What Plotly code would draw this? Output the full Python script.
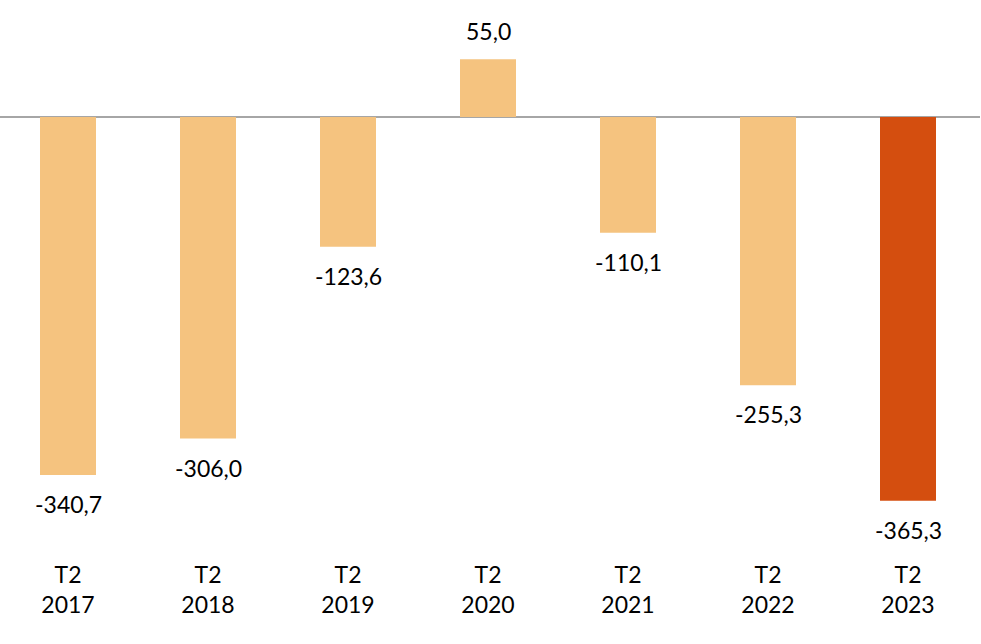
import plotly.graph_objects as go

categories = ["T2<br>2017", "T2<br>2018", "T2<br>2019", "T2<br>2020", "T2<br>2021", "T2<br>2022", "T2<br>2023"]
values = [-340.7, -306.0, -123.6, 55.0, -110.1, -255.3, -365.3]
labels = ["-340,7", "-306,0", "-123,6", "55,0", "-110,1", "-255,3", "-365,3"]
colors = ["#F5C37F"] * 6 + ["#D44E0F"]

FONT = "Lato"

fig = go.Figure()
fig.add_trace(go.Bar(
    x=list(range(len(categories))), y=values, width=0.4,
    marker=dict(color=colors, line=dict(width=0)),
    hoverinfo="skip",
))

for i, (v, t) in enumerate(zip(values, labels)):
    fig.add_annotation(
        x=i, y=v, text=t, showarrow=False,
        yanchor="top" if v < 0 else "bottom",
        yshift=-13 if v < 0 else 12,
        font=dict(family=FONT, size=23, color="#000000"),
    )

fig.update_layout(
    width=981, height=644,
    margin=dict(l=0, r=1, t=0, b=94),
    paper_bgcolor="white", plot_bgcolor="white",
    showlegend=False,
    xaxis=dict(
        range=[-0.4857, 6.5143],
        tickmode="array", tickvals=list(range(len(categories))), ticktext=categories,
        showgrid=False, zeroline=False, showline=False, ticks="",
        tickfont=dict(family=FONT, size=23, color="#000000"),
        ticklabelstandoff=9,
    ),
    yaxis=dict(
        range=[-412.1, 111.3], showgrid=False, showticklabels=False,
        zeroline=True, zerolinecolor="#A6A6A6", zerolinewidth=1.5, showline=False,
    ),
)

fig.write_html("out.html")
